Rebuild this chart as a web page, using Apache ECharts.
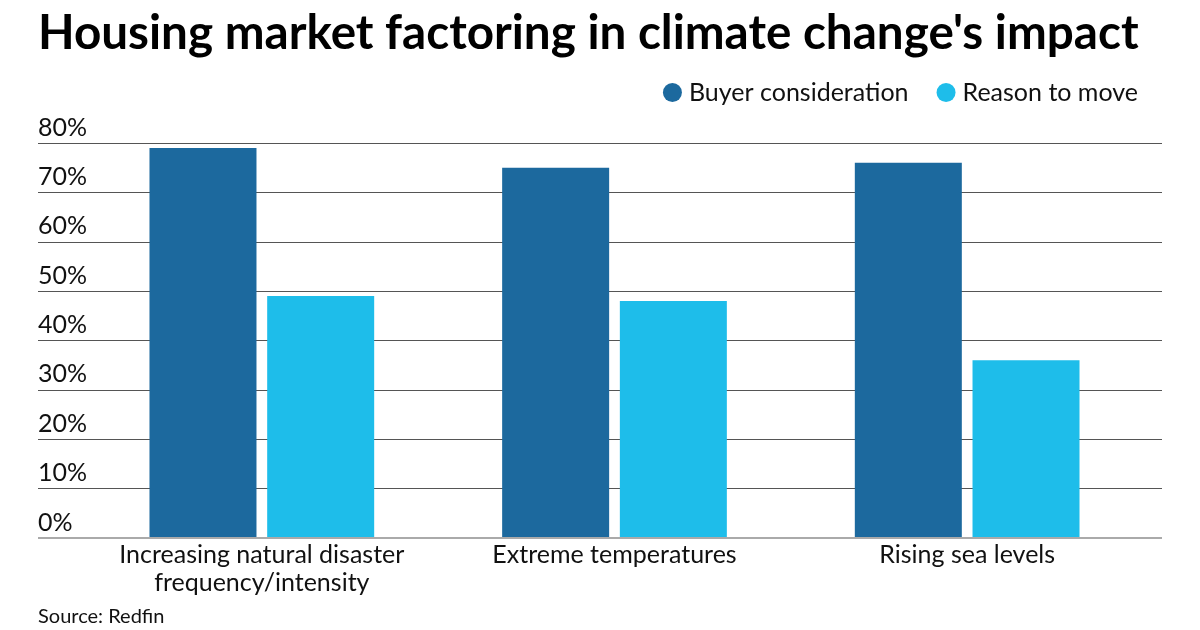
<!DOCTYPE html>
<html><head><meta charset="utf-8">
<script src="https://cdn.jsdelivr.net/npm/echarts@6/dist/echarts.min.js"></script>
<style>html,body{margin:0;padding:0;background:#fff}#c{width:1200px;height:630px}</style>
</head><body><div id="c"></div>
<script>
const categories = ['Increasing natural disaster\nfrequency/intensity', 'Extreme temperatures', 'Rising sea levels'];
const buyerConsideration = [79, 75, 76];
const reasonToMove = [49, 48, 36];
const seriesNames = ['Buyer consideration', 'Reason to move'];
const yTicks = [0, 10, 20, 30, 40, 50, 60, 70, 80];

const FONT = 'Lato';
const chart = echarts.init(document.getElementById('c'), null, {renderer: 'canvas'});
chart.setOption({
  animation: false,
  backgroundColor: '#fff',
  title: {
    text: 'Housing market factoring in climate change\'s impact',
    left: 33, top: 5,
    textStyle: {fontFamily: FONT, fontWeight: 'bold', fontSize: 47.6, color: '#000'}
  },
  legend: {
    right: 57, top: 75,
    itemWidth: 19, itemHeight: 19, itemGap: 28,
    icon: 'circle',
    textStyle: {fontFamily: FONT, fontSize: 25, color: '#111', padding: [0,0,0,2]},
    data: seriesNames
  },
  graphic: [{
    type: 'text', left: 38, top: 607,
    style: {text: 'Source: Redfin', fontFamily: FONT, fontSize: 20, fill: '#111'}
  }],
  grid: [
    {left: 38, right: 38, top: 143, bottom: 92},
    {left: 85.5, right: 56.5, top: 143, bottom: 92}
  ],
  xAxis: [
    {gridIndex: 0, type: 'value', show: false, min: 0, max: 1},
    {gridIndex: 1, type: 'category', data: categories,
     axisLine: {show: false}, axisTick: {show: false},
     axisLabel: {interval: 0, hideOverlap: false, fontFamily: FONT, fontSize: 25, color: '#111', margin: 3, lineHeight: 28}}
  ],
  yAxis: [
    {gridIndex: 0, type: 'value', min: 0, max: 80, interval: 10,
     axisLine: {show: false}, axisTick: {show: false},
     splitLine: {lineStyle: {color: '#555', width: 1}},
     axisLabel: {inside: true, margin: 0, align: 'left', verticalAlign: 'bottom',
       padding: [0,0,3,0], fontFamily: FONT, fontSize: 25, color: '#111',
       formatter: v => yTicks.includes(v) ? v + '%' : ''}},
    {gridIndex: 1, type: 'value', min: 0, max: 80, interval: 10, show: false}
  ],
  series: [
    {name: seriesNames[0], type: 'bar', xAxisIndex: 1, yAxisIndex: 1, data: buyerConsideration,
     barWidth: 107, barGap: '10%', itemStyle: {color: '#1c699e'}},
    {name: seriesNames[1], type: 'bar', xAxisIndex: 1, yAxisIndex: 1, data: reasonToMove,
     barWidth: 107, barGap: '10%', itemStyle: {color: '#1ebdea'}},
    {type: 'line', xAxisIndex: 0, yAxisIndex: 0, data: [[0,0],[1,0]], symbol: 'none', silent: true,
     lineStyle: {color: '#aaa', width: 2}, z: 5}
  ]
});
</script></body></html>
